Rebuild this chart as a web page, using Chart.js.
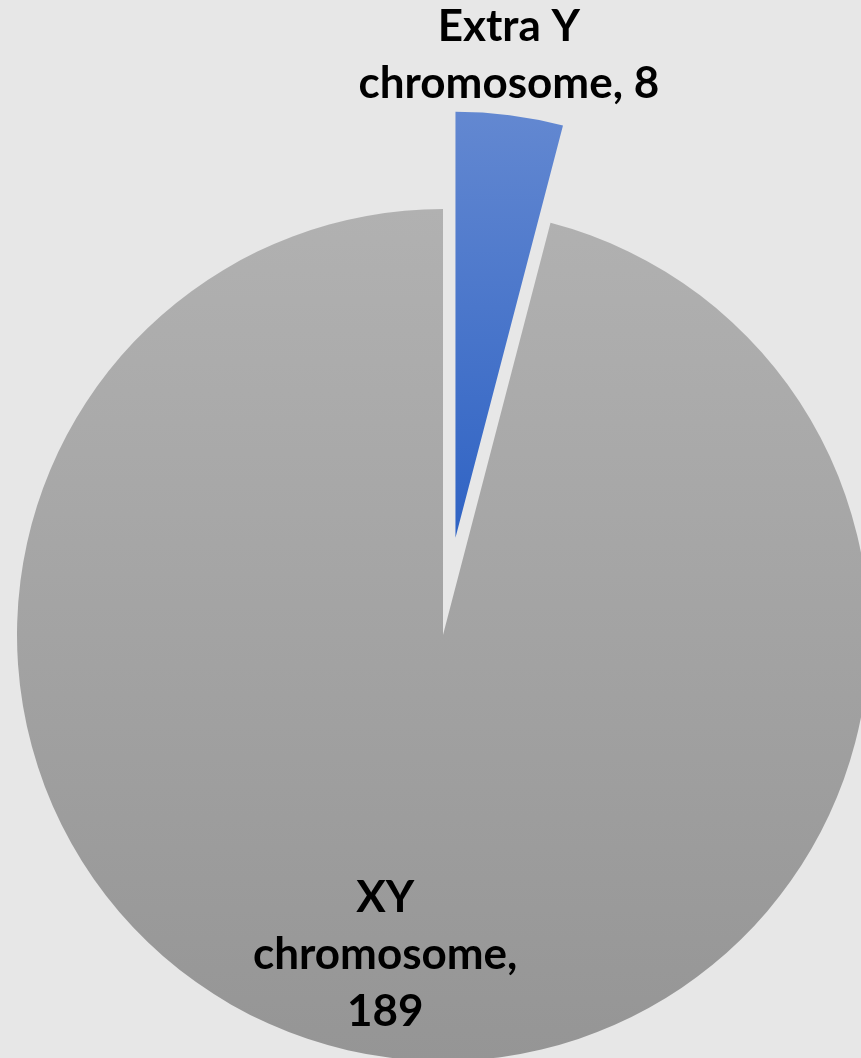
<!DOCTYPE html>
<html>
<head>
<meta charset="utf-8">
<title>Chromosome pie</title>
<script src="https://cdn.jsdelivr.net/npm/chart.js@4.4.1/dist/chart.umd.min.js"></script>
<style>
  html, body { margin: 0; padding: 0; background: #e7e7e7; }
  canvas { display: block; }
</style>
</head>
<body>
<canvas id="chart" width="861" height="1058"></canvas>
<script>
// data
const CATEGORIES = ["Extra Y chromosome", "XY chromosome"];
const VALUES = [8, 189];

// styling
const RADIUS = 426;
const EXPLODE = [98, 0];                       // pixels a slice is pulled out
const TOP_COLORS = ["#6388d1", "#b1b1b1"];
const BOTTOM_COLORS = ["#2f63c4", "#959595"];
const GRAD_SPAN = [[-1, 0], [-1, 1]];          // gradient extent, in radii from the slice centre
const LABEL_FONT = "bold 44px Lato";
const LINE_HEIGHT = 57;
const LABEL_R = [1.04, 0.79];
const LABEL_ALIGN = ["bottom", "middle"];
const LABEL_NUDGE_X = [-3, -15];
const WRAP_WIDTH = [330, 290];

//Gradient fill for each slice, built once the chart area is known
function sliceFill(c) {
    const i = c.dataIndex;
    const area = c.chart.chartArea;
    if (!area) return TOP_COLORS[i];
    const cy = (area.top + area.bottom) / 2 - EXPLODE[i];
    const g = c.chart.ctx.createLinearGradient(0, cy + GRAD_SPAN[i][0] * RADIUS, 0, cy + GRAD_SPAN[i][1] * RADIUS);
    g.addColorStop(0, TOP_COLORS[i]);
    g.addColorStop(1, BOTTOM_COLORS[i]);
    return g;
}

//Pulls exploded slices straight out, keeping their size and angle
const explodePlugin = {
    id: "explode",
    afterUpdate(chart) {
        chart.getDatasetMeta(0).data.forEach((arc, i) => {
            const d = EXPLODE[i] || 0;
            const mid = (arc.startAngle + arc.endAngle) / 2;
            arc.x += Math.cos(mid) * d;
            arc.y += Math.sin(mid) * d;
        });
    }
};

//Splits a label into lines no wider than maxWidth
function wrapText(ctx, text, maxWidth) {
    const words = text.split(" ");
    const lines = [];
    let line = "";
    for (const w of words) {
        const test = line ? line + " " + w : w;
        if (line && ctx.measureText(test).width > maxWidth) {
            lines.push(line);
            line = w;
        } else {
            line = test;
        }
    }
    if (line) lines.push(line);
    return lines;
}

//Draws "category, value" labels next to each slice
const labelPlugin = {
    id: "sliceLabels",
    afterDatasetsDraw(chart) {
        const ctx = chart.ctx;
        ctx.save();
        ctx.font = LABEL_FONT;
        ctx.fillStyle = "#000000";
        ctx.textAlign = "center";
        ctx.textBaseline = "alphabetic";
        chart.getDatasetMeta(0).data.forEach((arc, i) => {
            const lines = wrapText(ctx, `${CATEGORIES[i]}, ${VALUES[i]}`, WRAP_WIDTH[i]);
            const mid = (arc.startAngle + arc.endAngle) / 2;
            const r = arc.outerRadius * LABEL_R[i];
            const x = arc.x + Math.cos(mid) * r + LABEL_NUDGE_X[i];
            const y = arc.y + Math.sin(mid) * r;
            let first;
            if (LABEL_ALIGN[i] === "bottom") {
                first = y - (lines.length - 1) * LINE_HEIGHT;
            } else {
                first = y - (lines.length - 1) / 2 * LINE_HEIGHT;
            }
            lines.forEach((t, k) => ctx.fillText(t, x, first + k * LINE_HEIGHT));
        });
        ctx.restore();
    }
};

const chart = new Chart(document.getElementById("chart"), {
    type: "pie",
    data: {
        labels: CATEGORIES,
        datasets: [{
            data: VALUES,
            backgroundColor: sliceFill,
            borderWidth: 0,
            radius: RADIUS,
            clip: false,
        }],
    },
    options: {
        responsive: false,
        animation: false,
        events: [],
        layout: {
            padding: { left: 25, right: 0, top: 212, bottom: 0 },
        },
        plugins: {
            legend: { display: false },
            tooltip: { enabled: false },
        },
    },
    plugins: [explodePlugin, labelPlugin],
});
</script>
</body>
</html>
